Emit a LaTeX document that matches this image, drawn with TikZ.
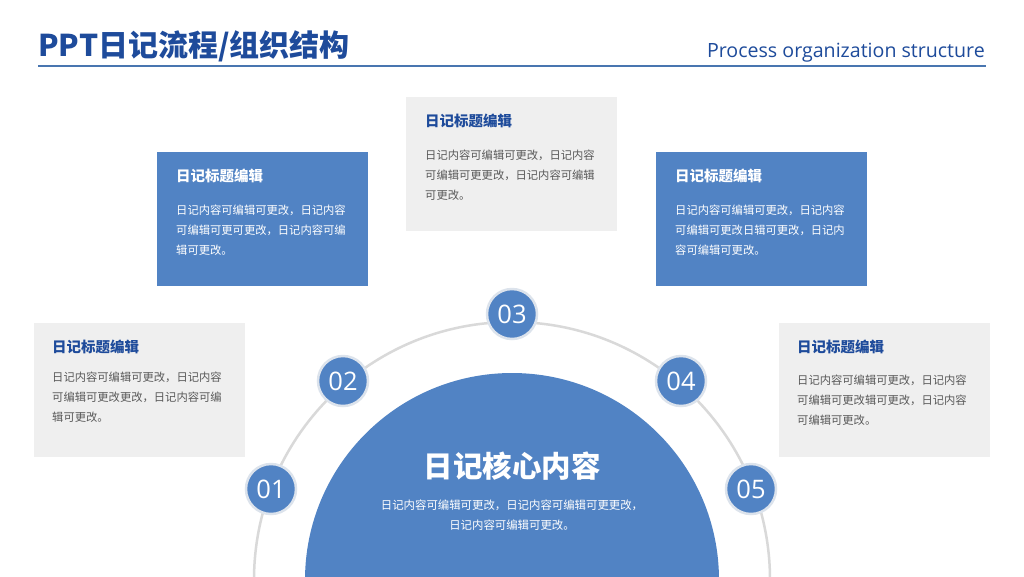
\documentclass[tikz,border=0pt]{standalone}
\usepackage{fontspec}
\setmainfont{Noto Sans CJK SC}
\newfontfamily\enfont{Open Sans}
\definecolor{mainblue}{RGB}{81,131,196}
\definecolor{titleblue}{RGB}{30,75,155}
\definecolor{boxgray}{RGB}{239,239,239}
\definecolor{bodygray}{RGB}{89,89,89}
\definecolor{ringgray}{RGB}{217,217,217}
\definecolor{rimgray}{RGB}{220,227,236}
\tikzset{
  bluebox/.style={fill=mainblue, draw=none, minimum width=211pt, minimum height=134pt, inner sep=0pt, anchor=north west},
  graybox/.style={fill=boxgray, draw=none, minimum width=211pt, minimum height=134pt, inner sep=0pt, anchor=north west},
  boxtitle/.style={anchor=west, inner sep=0pt, font=\fontsize{14.5}{16}\selectfont\bfseries},
  boxbody/.style={anchor=west, inner sep=0pt, align=left, font=\fontsize{11.3}{20}\selectfont},
  numcircle/.style={circle, fill=mainblue, draw=rimgray, line width=2.5pt, minimum size=50pt, inner sep=0pt, text=white, font=\enfont\fontsize{25.5}{26}\selectfont},
}
\begin{document}
\begin{tikzpicture}[x=1pt,y=-1pt]
\useasboundingbox (0,0) rectangle (1024,576);
\fill[white] (0,0) rectangle (1024,576);
% header
\node[anchor=base west, inner sep=0pt, text=titleblue, font=\fontsize{30}{32}\selectfont\bfseries] (title) at (38,56) {PPT日记流程/组织结构};
\node[anchor=base east, inner sep=0pt, text=titleblue, font=\enfont\fontsize{19.6}{21}\selectfont] (sub) at (985,57) {Process organization structure};
\coordinate (hl) at (38,66);
\coordinate (hr) at (986,66);
\draw[line width=2pt, color=mainblue!90!black] (hl) -- (hr);
% boxes
\node[bluebox] (A) at (157,152) {};
\node[graybox] (B) at (406,97) {};
\node[bluebox] (C) at (656,152) {};
\node[graybox] (D) at (34,323) {};
\node[graybox] (E) at (779,323) {};
% box texts
\node[boxtitle, text=white] (At) at ([xshift=19pt,yshift=-24pt]A.north west) {日记标题编辑};
\node[boxbody, text=white] (Ab) at ([xshift=19pt,yshift=-78pt]A.north west) {日记内容可编辑可更改，日记内容\\可编辑可更可更改，日记内容可编\\辑可更改。};
\node[boxtitle, text=titleblue] (Bt) at ([xshift=19pt,yshift=-24pt]B.north west) {日记标题编辑};
\node[boxbody, text=bodygray] (Bb) at ([xshift=19pt,yshift=-78pt]B.north west) {日记内容可编辑可更改，日记内容\\可编辑可更更改，日记内容可编辑\\可更改。};
\node[boxtitle, text=white] (Ct) at ([xshift=19pt,yshift=-24pt]C.north west) {日记标题编辑};
\node[boxbody, text=white] (Cb) at ([xshift=19pt,yshift=-78pt]C.north west) {日记内容可编辑可更改，日记内容\\可编辑可更改日辑可更改，日记内\\容可编辑可更改。};
\node[boxtitle, text=titleblue] (Dt) at ([xshift=18pt,yshift=-24pt]D.north west) {日记标题编辑};
\node[boxbody, text=bodygray] (Db) at ([xshift=18pt,yshift=-74pt]D.north west) {日记内容可编辑可更改，日记内容\\可编辑可更改更改，日记内容可编\\辑可更改。};
\node[boxtitle, text=titleblue] (Et) at ([xshift=18pt,yshift=-24pt]E.north west) {日记标题编辑};
\node[boxbody, text=bodygray] (Eb) at ([xshift=18pt,yshift=-77pt]E.north west) {日记内容可编辑可更改，日记内容\\可编辑可更改辑可更改，日记内容\\可编辑可更改。};
% ring and core
\coordinate (O) at (512,580);
\draw[ringgray, line width=2.5pt] (O) circle[radius=258];
\fill[mainblue] (O) circle[radius=207];
\node[inner sep=0pt, text=white, font=\fontsize{29.5}{30}\selectfont\bfseries] (core) at (512,466) {日记核心内容};
\node[inner sep=0pt, text=white, align=center, font=\fontsize{11.4}{20}\selectfont] (coretext) at (512,515) {日记内容可编辑可更改，日记内容可编辑可更更改，\\日记内容可编辑可更改。};
% numbers
\node[numcircle] (n1) at (271,489) {01};
\node[numcircle] (n2) at (343,381) {02};
\node[numcircle] (n3) at (512,314) {03};
\node[numcircle] (n4) at (681,381) {04};
\node[numcircle] (n5) at (751,489) {05};
\end{tikzpicture}
\end{document}
